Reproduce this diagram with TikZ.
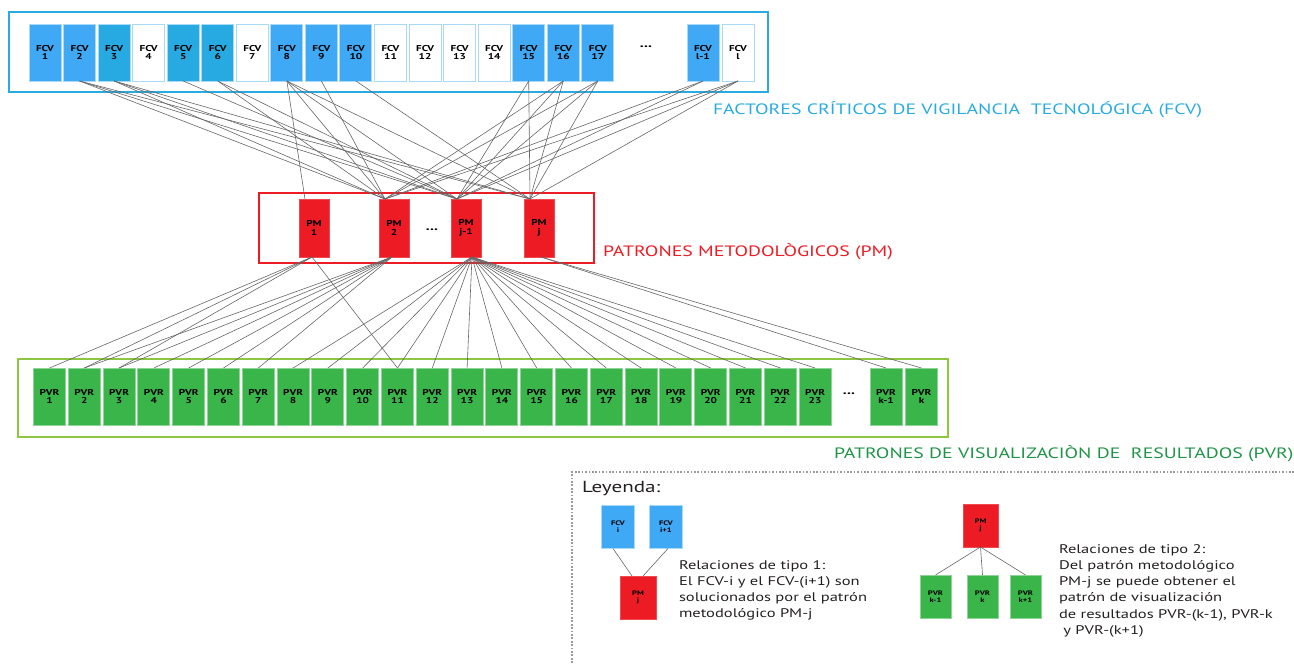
\documentclass[tikz,border=0pt]{standalone}
\usepackage{fontspec}
\setmainfont{PT Sans}[FakeStretch=1.32]
\usetikzlibrary{calc}

\definecolor{fcvframe}{HTML}{29ABE2}
\definecolor{fcvblue}{HTML}{3FA9F5}
\definecolor{fcvcyan}{HTML}{27AAE1}
\definecolor{fcvedge}{HTML}{A8D9F7}
\definecolor{pmred}{HTML}{ED1C24}
\definecolor{pvrgreen}{HTML}{39B54A}
\definecolor{pvredge}{HTML}{8ED497}
\definecolor{pvrframe}{HTML}{8DC63F}
\definecolor{pvrtext}{HTML}{1E9447}
\definecolor{linkgray}{HTML}{666666}
\definecolor{legtext}{HTML}{231F20}
\definecolor{legdots}{HTML}{9A9A9A}

\begin{document}
\begin{tikzpicture}[x=1pt,y=-1pt,
  every node/.style={inner sep=0pt, outer sep=0pt},
  cell/.style={minimum width=32pt, minimum height=57pt, align=center,
    font=\fontsize{8.5}{8.5}\selectfont\bfseries, text=black, line width=1pt},
  fcvA/.style={cell, fill=fcvblue, draw=fcvedge},
  fcvB/.style={cell, fill=fcvcyan, draw=fcvedge},
  fcvW/.style={cell, fill=white, draw=fcvedge},
  pmcell/.style={cell, minimum width=30pt, minimum height=58pt, fill=pmred, draw=pmred!80!white},
  pvrcell/.style={cell, fill=pvrgreen, draw=pvredge},
  smallcell/.style={cell, minimum width=33pt, minimum height=43pt,
    font=\fontsize{6.5}{7}\selectfont\bfseries},
  link/.style={draw=linkgray, line width=0.6pt},
  frame/.style={line width=2.6pt},
  dotsym/.style={font=\fontsize{12}{12}\selectfont\bfseries},
  grouplabel/.style={anchor=base west, font=\fontsize{15}{15}\selectfont},
  legendtext/.style={anchor=base west, text=legtext, font=\fontsize{12.5}{16.3}\selectfont},
  legendborder/.style={draw=legdots, line width=1.7pt, dash pattern=on 1.7pt off 1.7pt}
]
\useasboundingbox (0,0) rectangle (1294,664);

% ---- critical technology-watch factors ----
\draw[frame, draw=fcvframe] (9,12) rectangle (768,92);
\foreach \i/\st in {1/fcvA,2/fcvA,3/fcvB,4/fcvW,5/fcvB,6/fcvB,7/fcvW,8/fcvA,9/fcvA,
                    10/fcvA,11/fcvW,12/fcvW,13/fcvW,14/fcvW,15/fcvA,16/fcvA,17/fcvA}
  \node[\st] (f\i) at ({45+(\i-1)*34.55},52.5) {FCV\\\i};
\node[dotsym] (fdots) at (646,47) {...};
\node[fcvA] (fl1) at (703,52.5) {FCV\\l-1};
\node[fcvW] (fl) at (738,52.5) {FCV\\l};
\node[grouplabel, text=fcvframe] (lblfcv) at (713,114)
  {FACTORES CRÍTICOS DE VIGILANCIA~~TECNOLÓGICA (FCV)};

% ---- methodological patterns ----
\draw[frame, draw=pmred] (259,193) rectangle (594,263);
\node[pmcell] (pm1) at (314,228) {PM\\1};
\node[pmcell] (pm2) at (394,228) {PM\\2};
\node[dotsym] (pmdots) at (432,230) {...};
\node[pmcell] (pmj1) at (466,228) {PM\\j-1};
\node[pmcell] (pmj) at (539,228) {PM\\j};
\node[grouplabel, text=pmred] (lblpm) at (603,256) {PATRONES METODOLÒGICOS (PM)};

% ---- result visualisation patterns ----
\draw[frame, draw=pvrframe] (18,359) rectangle (948,437);
\foreach \i in {1,...,23}
  \node[pvrcell] (v\i) at ({49.5+(\i-1)*34.8},396.5) {PVR\\\i};
\node[dotsym] (vdots) at (849,394) {...};
\node[pvrcell] (vk1) at (886,396.5) {PVR\\k-1};
\node[pvrcell] (vk) at (921.5,396.5) {PVR\\k};
\node[grouplabel, text=pvrtext] (lblpvr) at (834,458)
  {PATRONES DE VISUALIZACIÒN DE~~RESULTADOS (PVR)};

% entry and exit points on the pattern boxes
\foreach \p in {pm1,pm2,pmj1,pmj}
  \coordinate (\p in) at ([xshift=-9pt]\p.north);
\coordinate (pm1out) at ([xshift=-2pt]pm1.south);
\coordinate (pm2out) at ([xshift=-2pt]pm2.south);
\coordinate (pmj1out) at ([xshift=6pt]pmj1.south);
\coordinate (pmjout) at ([xshift=2pt]pmj.south);

% factor -> methodological pattern
\foreach \a/\b in {f2/pm2,f2/pmj1,f2/pmj, f3/pm2,f3/pmj1,f3/pmj, f5/pmj1,
                   f6/pm2,f6/pmj1, f8/pm1,f8/pm2,f8/pmj1,f8/pmj, f9/pm2, f10/pmj,
                   f15/pmj1,f15/pmj, f16/pm2,f16/pmj1,f16/pmj, f17/pm2,f17/pmj1,f17/pmj,
                   fl1/pm2,fl1/pmj1, fl/pm2,fl/pmj1,fl/pmj}
  \draw[link] (\a.south) -- (\b in);

% methodological pattern -> visualisation pattern
\foreach \a/\b in {pm1/v1,pm1/v2,pm1/v3,pm1/v11,
                   pm2/v2,pm2/v3,pm2/v4,pm2/v5,pm2/v6,pm2/v7,
                   pmj1/v8,pmj1/v9,pmj1/v10,pmj1/v11,pmj1/v12,pmj1/v13,pmj1/v14,pmj1/v15,
                   pmj1/v16,pmj1/v17,pmj1/v18,pmj1/v19,pmj1/v20,pmj1/v21,pmj1/v22,pmj1/v23,
                   pmj/vk1,pmj/vk}
  \draw[link] (\a out) -- (\b.north);

% ---- legend ----
\draw[legendborder] (1294,472) -- (572,472) -- (572,664);
\node[anchor=base west, text=legtext, font=\fontsize{16}{16}\selectfont] (legtitle) at (582,492) {Leyenda:};

% type 1
\node[smallcell, fill=fcvblue, draw=fcvedge] (lfa) at (618,527) {FCV\\i};
\node[smallcell, fill=fcvblue, draw=fcvedge] (lfb) at (666,527) {FCV\\i+1};
\node[smallcell, minimum width=36pt, fill=pmred, draw=pmred!80!white] (lpma) at (638,597.5) {PM\\j};
\draw[link] ([xshift=-5pt]lfa.south) -- ([xshift=-6pt]lpma.north);
\draw[link] ([xshift=2pt]lfb.south) -- ([xshift=5pt]lpma.north);
\node[legendtext] (ltxta) at (679,569)
  {\vtop{\hbox{Relaciones de tipo 1:}\hbox{El FCV-i y el FCV-(i+1) son}%
   \hbox{solucionados por el patrón}\hbox{metodológico PM-j}}};

% type 2
\node[smallcell, minimum width=35pt, fill=pmred, draw=pmred!80!white] (lpmb) at (980.5,525.5) {PM\\j};
\node[smallcell, minimum width=31pt, fill=pvrgreen, draw=pvredge] (lva) at (935.5,596.5) {PVR\\k-1};
\node[smallcell, minimum width=31pt, fill=pvrgreen, draw=pvredge] (lvb) at (982.5,596.5) {PVR\\k};
\node[smallcell, minimum width=31pt, fill=pvrgreen, draw=pvredge] (lvc) at (1025.5,596.5) {PVR\\k+1};
\foreach \v in {lva,lvb,lvc}
  \draw[link] (lpmb.south) -- (\v.north);
\node[legendtext] (ltxtb) at (1059,553)
  {\vtop{\hbox{Relaciones de tipo 2:}\hbox{Del patrón metodológico}%
   \hbox{PM-j se puede obtener el}\hbox{patrón de visualización}%
   \hbox{de resultados PVR-(k-1), PVR-k}\hbox{ y PVR-(k+1)}}};
\end{tikzpicture}
\end{document}
